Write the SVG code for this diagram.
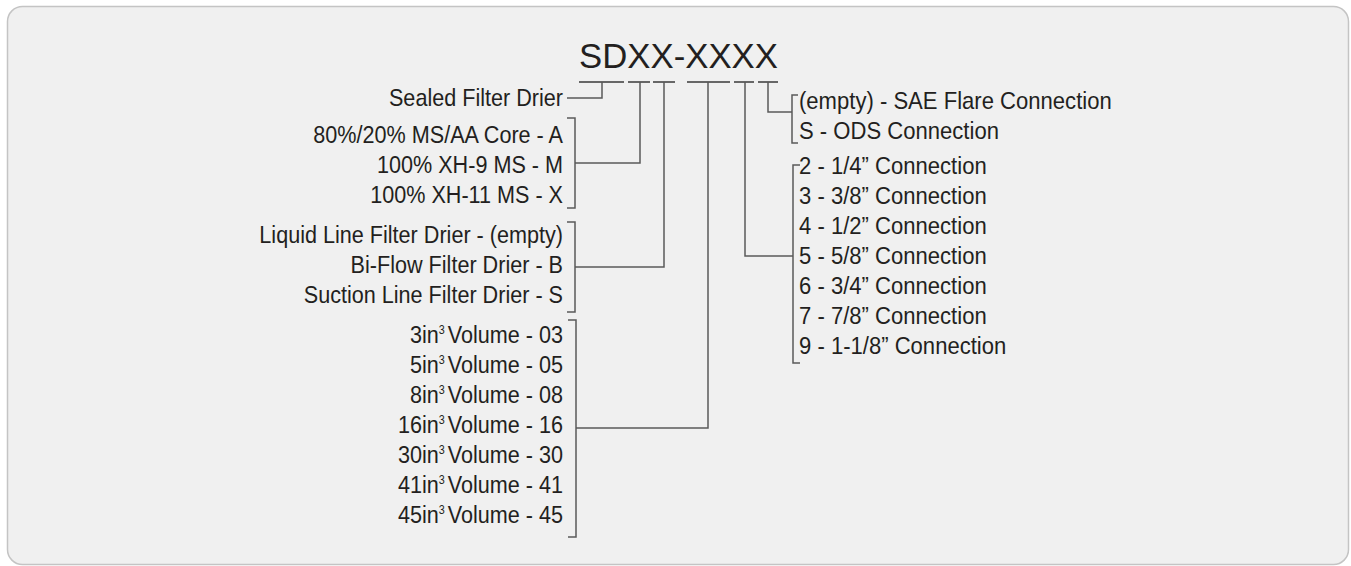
<svg xmlns="http://www.w3.org/2000/svg" width="1351" height="566" viewBox="0 0 1351 566">
<style>
.t{font-family:"Liberation Sans",Arial,sans-serif;font-size:24px;fill:#231f20}
.e{text-anchor:end}
.title{font-family:"Liberation Sans",Arial,sans-serif;font-size:36px;fill:#231f20;text-anchor:middle}
.ln{fill:none;stroke:#5a5a5a;stroke-width:1.5}
.ul{fill:none;stroke:#3a3a3a;stroke-width:1.6}
.sup{font-size:12px}
</style>
<rect x="0" y="0" width="1351" height="566" fill="#ffffff"/>
<rect x="7.5" y="6.5" width="1341" height="558" rx="15" ry="15" fill="#f0f0f0" stroke="#c4c4c4" stroke-width="1.5"/>

<g id="title">
<text class="title" transform="translate(678.5,68) scale(0.965,1)" x="0" y="0">SDXX-XXXX</text>
<path class="ul" d="M579,82H624M628,82H650M653,82H675M687,82H730M734,82H754M758,82H778"/>
</g>

<g id="sealed">
<text class="t e" transform="translate(563,106) scale(0.9,1)">Sealed Filter Drier</text>
</g>

<g id="core">
<text class="t e" transform="translate(563,143) scale(0.9,1)">80%/20% MS/AA Core - A</text>
<text class="t e" transform="translate(563,173) scale(0.9,1)">100% XH-9 MS - M</text>
<text class="t e" transform="translate(563,203) scale(0.9,1)">100% XH-11 MS - X</text>
<path class="ln" d="M567,118H575V208H567"/>
</g>

<g id="type">
<text class="t e" transform="translate(563,243) scale(0.9,1)">Liquid Line Filter Drier - (empty)</text>
<text class="t e" transform="translate(563,273) scale(0.9,1)">Bi-Flow Filter Drier - B</text>
<text class="t e" transform="translate(563,303) scale(0.9,1)">Suction Line Filter Drier - S</text>
<path class="ln" d="M567,222H575V312H567"/>
</g>

<g id="volume">
<text class="t e" transform="translate(563,343) scale(0.9,1)">3in<tspan class="sup" dy="-9">3 </tspan><tspan dy="9">Volume - 03</tspan></text>
<text class="t e" transform="translate(563,373) scale(0.9,1)">5in<tspan class="sup" dy="-9">3 </tspan><tspan dy="9">Volume - 05</tspan></text>
<text class="t e" transform="translate(563,403) scale(0.9,1)">8in<tspan class="sup" dy="-9">3 </tspan><tspan dy="9">Volume - 08</tspan></text>
<text class="t e" transform="translate(563,433) scale(0.9,1)">16in<tspan class="sup" dy="-9">3 </tspan><tspan dy="9">Volume - 16</tspan></text>
<text class="t e" transform="translate(563,463) scale(0.9,1)">30in<tspan class="sup" dy="-9">3 </tspan><tspan dy="9">Volume - 30</tspan></text>
<text class="t e" transform="translate(563,493) scale(0.9,1)">41in<tspan class="sup" dy="-9">3 </tspan><tspan dy="9">Volume - 41</tspan></text>
<text class="t e" transform="translate(563,523) scale(0.9,1)">45in<tspan class="sup" dy="-9">3 </tspan><tspan dy="9">Volume - 45</tspan></text>
<path class="ln" d="M568,320H576V537H568"/>
</g>

<g id="conntype">
<text class="t" transform="translate(799,109) scale(0.92,1)">(empty) - SAE Flare Connection</text>
<text class="t" transform="translate(799,139) scale(0.92,1)">S - ODS Connection</text>
<path class="ln" d="M798,95H792V143H798"/>
</g>

<g id="size">
<text class="t" transform="translate(799,174) scale(0.92,1)">2 - 1/4” Connection</text>
<text class="t" transform="translate(799,204) scale(0.92,1)">3 - 3/8” Connection</text>
<text class="t" transform="translate(799,234) scale(0.92,1)">4 - 1/2” Connection</text>
<text class="t" transform="translate(799,264) scale(0.92,1)">5 - 5/8” Connection</text>
<text class="t" transform="translate(799,294) scale(0.92,1)">6 - 3/4” Connection</text>
<text class="t" transform="translate(799,324) scale(0.92,1)">7 - 7/8” Connection</text>
<text class="t" transform="translate(799,354) scale(0.92,1)">9 - 1-1/8” Connection</text>
<path class="ln" d="M800,165H793V363H800"/>
</g>

<g id="connectors">
<path class="ln" d="M567,98H602V82"/>
<path class="ln" d="M640,82V163H575"/>
<path class="ln" d="M664,82V267H575"/>
<path class="ln" d="M708,82V428H576"/>
<path class="ln" d="M745,82V256H793"/>
<path class="ln" d="M768,82V112H792"/>
</g>
</svg>
